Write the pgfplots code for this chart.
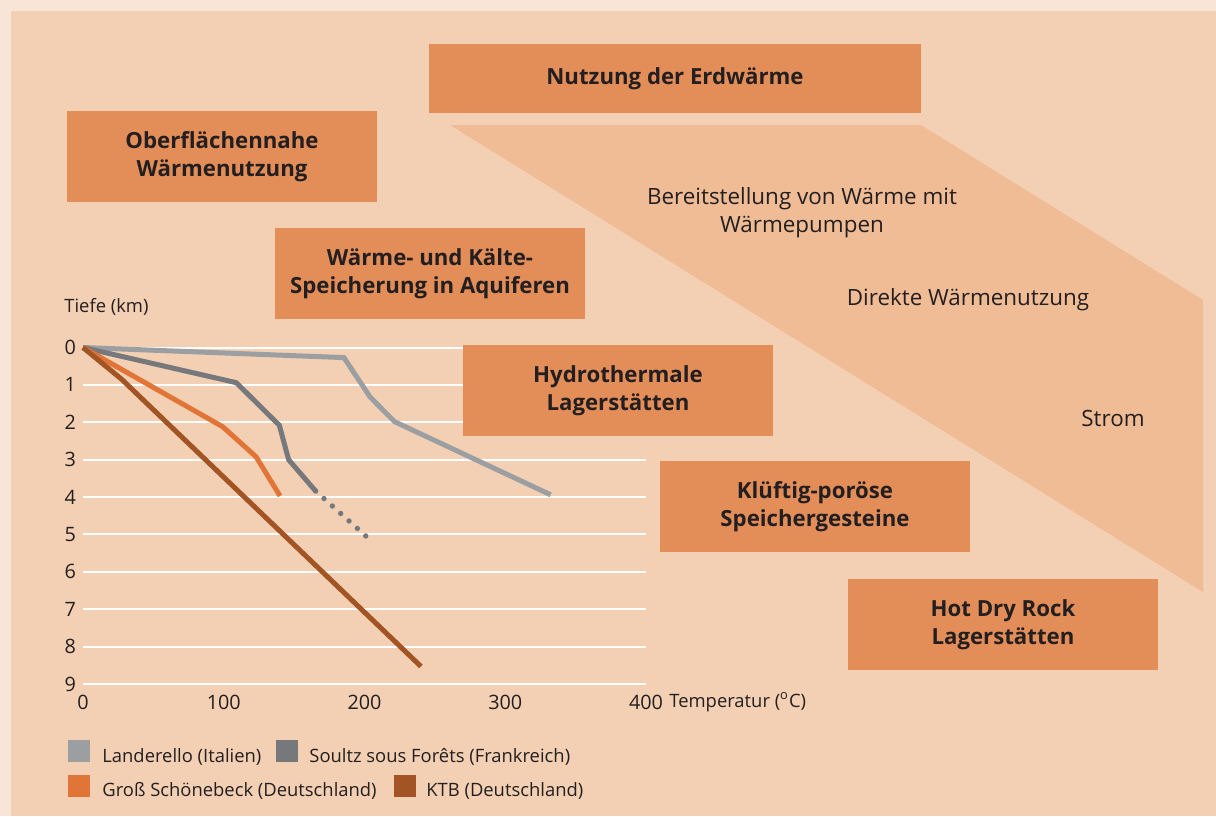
\documentclass[border=0pt]{standalone}
\usepackage{fontspec}
\setmainfont{Open Sans}
\usepackage{pgfplots}
\pgfplotsset{compat=1.18}

\definecolor{rim}{HTML}{F8E5D8}
\definecolor{panel}{HTML}{F3D0B3}
\definecolor{box}{HTML}{E38D58}
\definecolor{wedge}{HTML}{F0BC96}
\definecolor{ink}{HTML}{231F20}
\definecolor{landerello}{HTML}{9C9FA2}
\definecolor{soultz}{HTML}{77787B}
\definecolor{gross}{HTML}{E07537}
\definecolor{ktb}{HTML}{A35424}

\begin{document}
\begin{tikzpicture}[
  boxtxt/.style={font=\bfseries\fontsize{11.1}{14}\selectfont, text=ink, align=center},
  plain/.style={font=\fontsize{11.2}{14}\selectfont, text=ink, align=center},
  small/.style={font=\fontsize{9.2}{11}\selectfont, text=ink, anchor=base west, inner sep=0pt}]

% background, wedge and boxes (pixel grid, 1px = 0.5pt)
\begin{scope}[x=0.5pt, y=-0.5pt]
  \path[use as bounding box, fill=rim] (0,0) rectangle (1216,816);
  \fill[panel] (11,11) rectangle (1216,816);
  \fill[wedge] (450,125) -- (921,125) -- (1203,300) -- (1203,592) -- cycle;
  \node[plain] at (802,213) {Bereitstellung von Wärme mit\\Wärmepumpen};
  \node[plain] at (968,300) {Direkte Wärmenutzung};
  \node[plain] at (1113,418) {Strom};
  \node[small] at (64,312.3) {Tiefe (km)};
\end{scope}

\begin{axis}[
  at={(41.5pt,-173.75pt)}, anchor=north west,
  scale only axis, width=281.5pt, height=168.25pt,
  xmin=0, xmax=400, ymin=0, ymax=9, y dir=reverse,
  xtick={0,100,200,300,400}, ytick={0,1,...,9},
  axis line style={draw=none}, tick style={draw=none}, major tick length=0pt,
  ymajorgrids, grid style={white, line width=1pt},
  ticklabel style={font=\fontsize{9.9}{11}\selectfont, text=ink},
  /pgf/number format/assume math mode=true,
  xticklabel style={yshift=-2.2pt},
  no markers, clip=false]
\addplot[landerello, line width=2.5pt] coordinates {(0,0) (185.4,0.27) (203.9,1.32) (221.2,1.98) (332.3,3.94)};
\addplot[soultz, line width=2.5pt] coordinates {(0,0) (108.9,0.94) (139.5,2.08) (146.1,3.0) (165.3,3.84)};
\addplot[soultz, line width=2.7pt, line cap=round, dash pattern=on 0pt off 5.6pt] coordinates {(165.3,3.84) (200.9,5.04)};
\addplot[gross, line width=2.5pt] coordinates {(0,0) (99.3,2.12) (122.9,2.92) (140,3.97)};
\addplot[ktb, line width=2.5pt] coordinates {(0,0) (27.5,0.85) (240.1,8.53)};
\end{axis}

\begin{scope}[x=0.5pt, y=-0.5pt]
  \fill[box] (429,44) rectangle (921,113);
  \node[boxtxt] at (675,78.5) {Nutzung der Erdwärme};
  \fill[box] (67,111) rectangle (377,202);
  \node[boxtxt] at (222,156.5) {Oberflächennahe\\Wärmenutzung};
  \fill[box] (275,228) rectangle (585,319);
  \node[boxtxt] at (430,273.5) {Wärme- und Kälte-\\Speicherung in Aquiferen};
  \fill[box] (463,345) rectangle (773,436);
  \node[boxtxt] at (618,390.5) {Hydrothermale\\Lagerstätten};
  \fill[box] (660,461) rectangle (970,552);
  \node[boxtxt] at (815,506.5) {Klüftig-poröse\\Speichergesteine};
  \fill[box] (848,579) rectangle (1158,670);
  \node[boxtxt] at (1003,624.5) {Hot Dry Rock\\Lagerstätten};

  \node[small] at (669,707.3) {Temperatur (\textsuperscript{o}C)};

  % legend
  \fill[landerello] (68,740) rectangle (90,762);
  \node[small] at (102,762) {Landerello (Italien)};
  \fill[soultz] (276,740) rectangle (298,762);
  \node[small] at (309,762) {Soultz sous Forêts (Frankreich)};
  \fill[gross] (68,775) rectangle (90,797);
  \node[small] at (102,796.5) {Groß Schönebeck (Deutschland)};
  \fill[ktb] (394,775) rectangle (416,797);
  \node[small] at (426,796.5) {KTB (Deutschland)};
\end{scope}
\end{tikzpicture}
\end{document}
